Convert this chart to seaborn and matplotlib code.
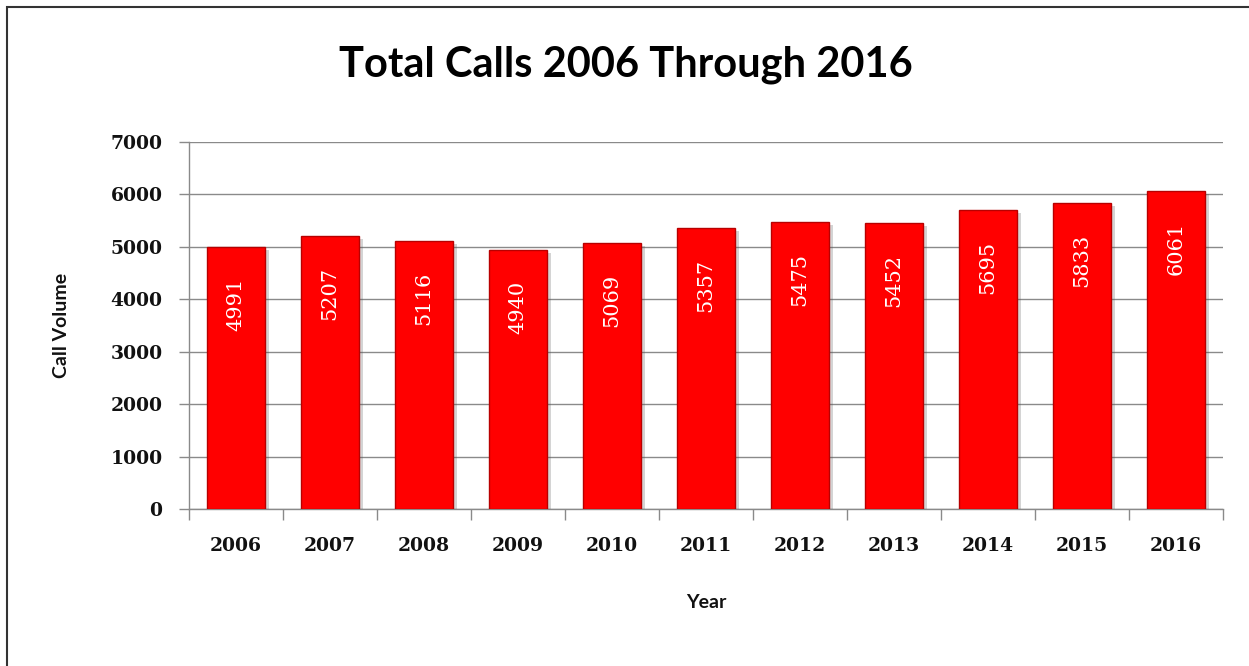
import matplotlib
matplotlib.use("Agg")
import matplotlib.pyplot as plt
import matplotlib.patheffects as pe
from matplotlib.patches import Rectangle
import seaborn as sns
import pandas as pd
import numpy as np

years = ["2006", "2007", "2008", "2009", "2010", "2011", "2012", "2013", "2014", "2015", "2016"]
calls = [4991, 5207, 5116, 4940, 5069, 5357, 5475, 5452, 5695, 5833, 6061]
y_ticks = [0, 1000, 2000, 3000, 4000, 5000, 6000, 7000]

sns.set_theme(style="white")
plt.rcParams["font.family"] = ["DejaVu Sans"]

df = pd.DataFrame({"Year": years, "Calls": calls})

fig = plt.figure(figsize=(12.49, 6.66), dpi=100)
ax = fig.add_axes([189/1249, 1-509/666, (1223-189)/1249, (509-142)/666])

sns.barplot(data=df, x="Year", y="Calls", ax=ax, color="#FF0000",
            width=0.62, edgecolor="#B80000", linewidth=1.0, saturation=1, zorder=3)
for p in ax.patches:
    p.set_path_effects([pe.SimplePatchShadow(offset=(2.5, -2), alpha=0.25, shadow_rgbFace="#555555"),
                        pe.Normal()])

ax.set_ylim(0, 7000)
ax.set_xlim(-0.5, len(years) - 0.5)
ax.set_yticks(y_ticks)
ax.yaxis.grid(True, color="#8a8a8a", linewidth=1.0, zorder=0)
ax.set_axisbelow(True)

for s in ["top", "right"]:
    ax.spines[s].set_visible(False)
for s in ["left", "bottom"]:
    ax.spines[s].set_color("#8a8a8a")
    ax.spines[s].set_linewidth(1.0)

serif_bold = dict(family="DejaVu Serif", weight="bold", size=13.5)
ax.set_yticklabels([str(v) for v in y_ticks], fontdict=serif_bold, color="#111111")
ax.set_xticklabels(years, fontdict=serif_bold, color="#111111")
ax.tick_params(axis="y", direction="out", length=7, width=1, color="#8a8a8a", pad=12, left=True)
ax.tick_params(axis="x", which="major", length=0, pad=20, bottom=True)
ax.set_xticks(np.arange(-0.5, len(years), 1.0), minor=True)
ax.tick_params(axis="x", which="minor", direction="out", length=8, width=1, color="#8a8a8a", bottom=True)

for i, v in enumerate(calls):
    ax.annotate(str(v), (i, v), xytext=(0, -22), textcoords="offset points",
                ha="center", va="top", rotation=90, color="white",
                family="DejaVu Serif", size=15, zorder=5)

ax.set_xlabel("Year", family="Lato", weight="bold", size=14, labelpad=28, color="#111111")
ax.set_ylabel("Call Volume", family="Lato", weight="bold", size=14, labelpad=29, color="#111111")

fig.text(626/1249, 1-65/666, "Total Calls 2006 Through 2016", ha="center", va="center",
         family="Lato", weight="bold", size=30, color="black")

fig.add_artist(Rectangle((7/1249, -0.2), 2.0, 1.2 - 7/666, transform=fig.transFigure,
                         fill=False, edgecolor="#333333", linewidth=1.5))

fig.savefig("out.png", dpi=100, facecolor="white")
